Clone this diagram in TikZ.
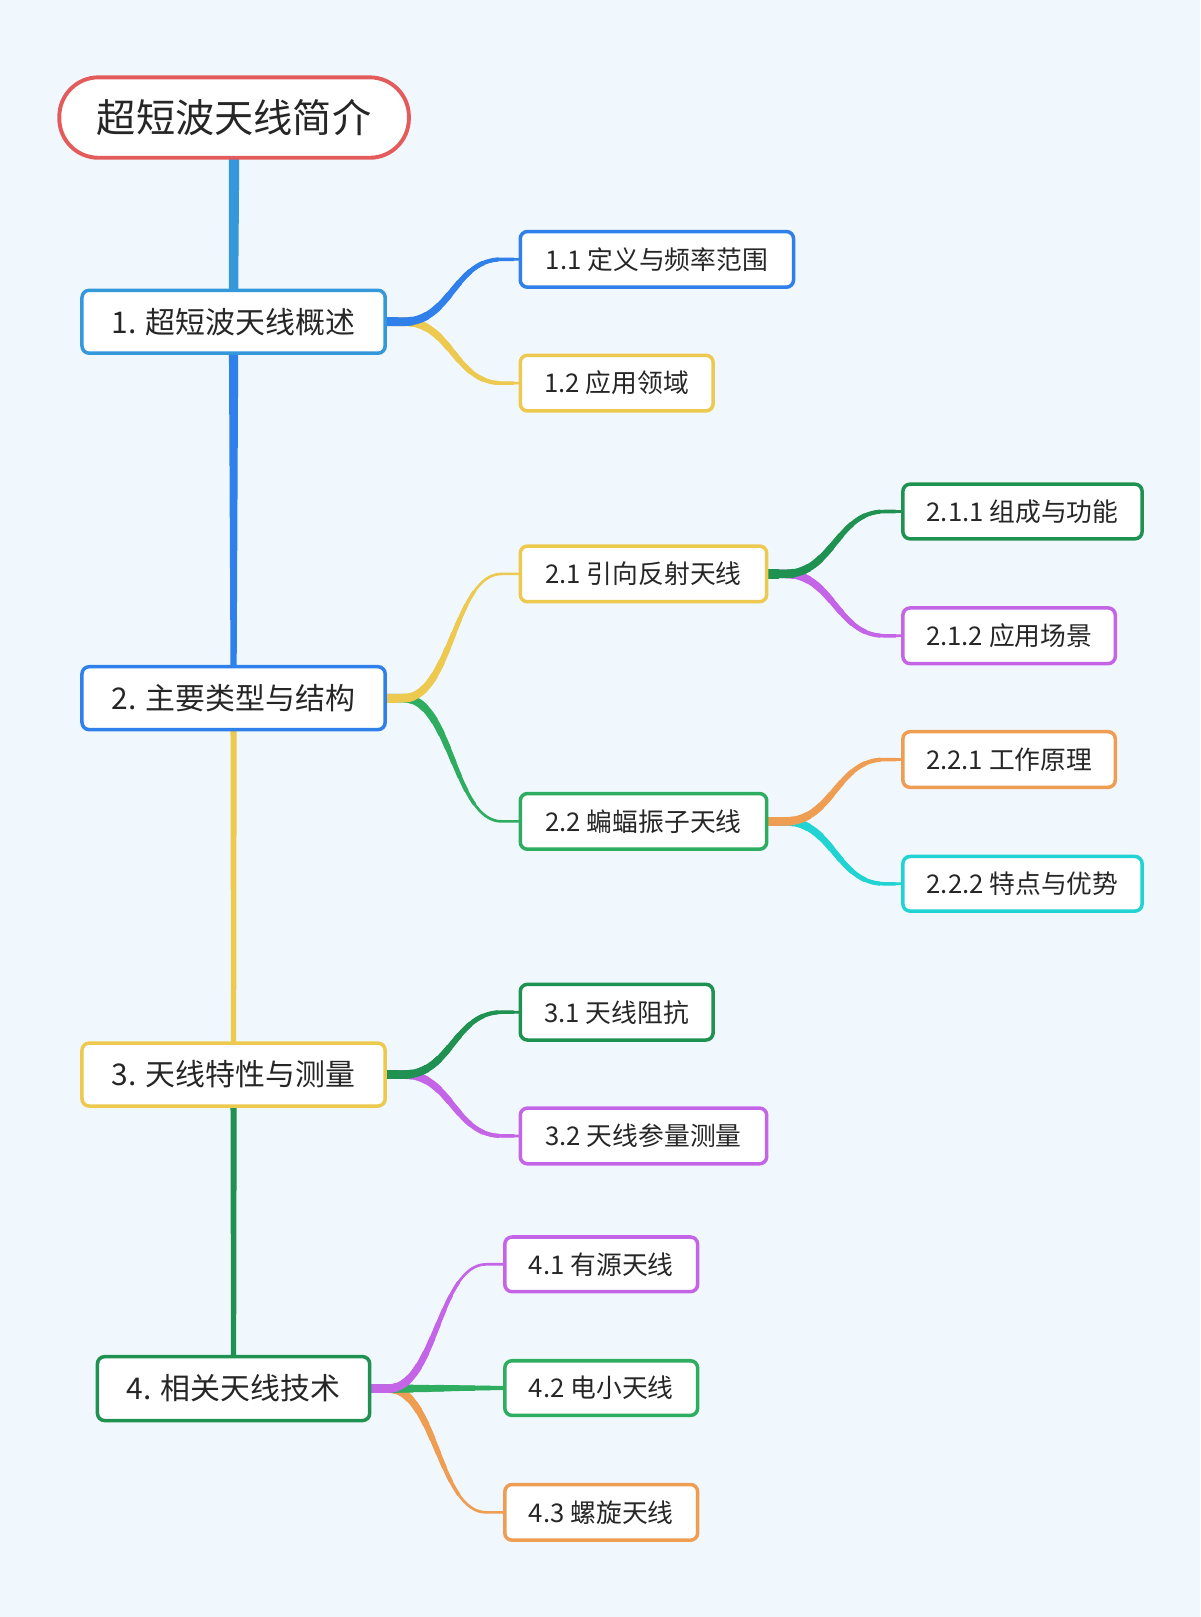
\documentclass[tikz,border=0pt]{standalone}
\usepackage{fontspec}
\setmainfont{Noto Sans CJK SC}
\usetikzlibrary{calc}
\definecolor{bgc}{HTML}{F1F8FD}
\definecolor{txt}{HTML}{262626}
\definecolor{cred}{HTML}{E35B5B}
\definecolor{clblue}{HTML}{3498DB}
\definecolor{cblue}{HTML}{2F80EA}
\definecolor{cyellow}{HTML}{EDC94F}
\definecolor{cdgreen}{HTML}{1F9150}
\definecolor{cgreen}{HTML}{2EAD60}
\definecolor{cpurple}{HTML}{C465E8}
\definecolor{corange}{HTML}{EE9D52}
\definecolor{ccyan}{HTML}{22D3D3}
\pgfdeclarelayer{bglayer}
\pgfdeclarelayer{lines}
\pgfsetlayers{bglayer,lines,main}
\newcommand\branchline[3]{%
  \foreach \k in {0,...,9}{%
    \pgfmathsetmacro\ww{9-0.62*\k}%
    \pgfmathsetmacro\ll{12+15*\k}%
    \draw[#3, line width=\ww pt, dash pattern=on \ll pt off 4000pt]
      (#1.east) -- ++(18,0) .. controls +(46,0) and +(-46,0) .. ($(#2.west)+(-18,0)$) -- (#2.west);
  }%
  \draw[#3, line width=2.6pt]
      (#1.east) -- ++(18,0) .. controls +(46,0) and +(-46,0) .. ($(#2.west)+(-18,0)$) -- (#2.west);
}
\newcommand\trunkline[5]{%
  \fill[#3] ($(#1.south)+(-#4/2,-2)$) -- ($(#1.south)+(#4/2,-2)$) -- ($(#2.north)+(#5/2,2)$) -- ($(#2.north)+(-#5/2,2)$) -- cycle;
}
\tikzset{
  box/.style={draw=#1, fill=white, line width=3.4pt, rounded corners=7pt, inner sep=0pt, outer sep=0pt, text=txt, align=center},
  lvone/.style={box=#1, font=\fontsize{29}{34}\selectfont},
  lvtwo/.style={box=#1, font=\fontsize{25}{30}\selectfont},
}
\begin{document}
\begin{tikzpicture}[x=1pt,y=-1pt]
\begin{pgfonlayer}{bglayer}
\fill[bgc] (0,0) rectangle (1164,1568);
\end{pgfonlayer}
\useasboundingbox (0,0) rectangle (1164,1568);
% root
\node[draw=cred, fill=white, line width=3.8pt, rounded corners=38pt, inner sep=0pt, minimum width=339pt, minimum height=78pt, text=txt, font=\fontsize{38}{44}\selectfont] (root) at (227,114) {超短波天线简介};
% level 1
\node[lvone=clblue, minimum width=294pt, minimum height=61pt] (n1) at (226.5,312) {1. 超短波天线概述};
\node[lvone=cblue, minimum width=294pt, minimum height=61pt] (n2) at (226.5,677) {2. 主要类型与结构};
\node[lvone=cyellow, minimum width=294pt, minimum height=61pt] (n3) at (226.5,1042) {3. 天线特性与测量};
\node[lvone=cdgreen, minimum width=264pt, minimum height=62pt] (n4) at (226.5,1346.5) {4. 相关天线技术};
% level 2
\node[lvtwo=cblue, minimum width=265pt, minimum height=54pt] (n11) at (637,251.5) {1.1 定义与频率范围};
\node[lvtwo=cyellow, minimum width=187pt, minimum height=54pt] (n12) at (598,371.5) {1.2 应用领域};
\node[lvtwo=cyellow, minimum width=239pt, minimum height=54pt] (n21) at (624,556.5) {2.1 引向反射天线};
\node[lvtwo=cgreen, minimum width=239pt, minimum height=54pt] (n22) at (624,796.5) {2.2 蝙蝠振子天线};
\node[lvtwo=cdgreen, minimum width=187pt, minimum height=54pt] (n31) at (598,981.5) {3.1 天线阻抗};
\node[lvtwo=cpurple, minimum width=239pt, minimum height=54pt] (n32) at (624,1101.5) {3.2 天线参量测量};
\node[lvtwo=cpurple, minimum width=187pt, minimum height=53pt] (n41) at (583,1226) {4.1 有源天线};
\node[lvtwo=cgreen, minimum width=187pt, minimum height=53pt] (n42) at (583,1346) {4.2 电小天线};
\node[lvtwo=corange, minimum width=187pt, minimum height=54pt] (n43) at (583,1466.5) {4.3 螺旋天线};
% level 3
\node[lvtwo=cdgreen, minimum width=232pt, minimum height=53pt] (n211) at (991.5,496) {2.1.1 组成与功能};
\node[lvtwo=cpurple, minimum width=206pt, minimum height=54pt] (n212) at (978.5,616.5) {2.1.2 应用场景};
\node[lvtwo=corange, minimum width=206pt, minimum height=54pt] (n221) at (978.5,736.5) {2.2.1 工作原理};
\node[lvtwo=ccyan, minimum width=232pt, minimum height=53pt] (n222) at (991.5,857) {2.2.2 特点与优势};
\begin{pgfonlayer}{lines}
\trunkline{root}{n1}{clblue}{10}{9}
\trunkline{n1}{n2}{cblue}{9}{6}
\trunkline{n2}{n3}{cyellow}{6}{5}
\trunkline{n3}{n4}{cdgreen}{6}{5}
\branchline{n1}{n12}{cyellow}
\branchline{n1}{n11}{cblue}
\branchline{n2}{n22}{cgreen}
\branchline{n2}{n21}{cyellow}
\branchline{n21}{n212}{cpurple}
\branchline{n21}{n211}{cdgreen}
\branchline{n22}{n222}{ccyan}
\branchline{n22}{n221}{corange}
\branchline{n3}{n32}{cpurple}
\branchline{n3}{n31}{cdgreen}
\branchline{n4}{n43}{corange}
\branchline{n4}{n42}{cgreen}
\branchline{n4}{n41}{cpurple}
\end{pgfonlayer}
\end{tikzpicture}
\end{document}
